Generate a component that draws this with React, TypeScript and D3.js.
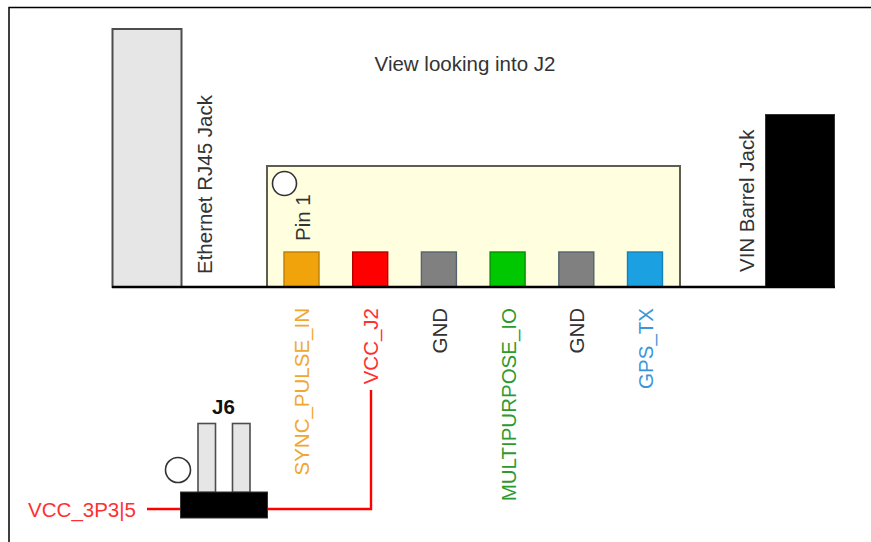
import React from "react";
import * as d3 from "d3";

const W = 871, H = 542;
const pinLabels = ["SYNC_PULSE_IN", "VCC_J2", "GND", "MULTIPURPOSE_IO", "GND", "GPS_TX"];
const pinFill = ["#f0a30a", "#ff0000", "#808080", "#00c800", "#808080", "#1ba1e2"];
const pinStroke = ["#bd7c07", "#b80000", "#51646f", "#009000", "#51646f", "#1680bb"];
const labelColor = ["#f0a830", "#ff3030", "#333333", "#2e9a2e", "#333333", "#3d95d8"];
const pinIndex = [0, 1, 2, 3, 4, 5];
const headerPins = [0, 1];

const FONT = "'Liberation Sans', Arial, sans-serif";
const FS = 20.5;

export default function App() {
  const pinX = d3.scaleLinear().domain([0, 5]).range([284, 627.5]);
  const labelX = d3.scaleLinear().domain([0, 5]).range([302, 646]);
  const headerX = d3.scaleLinear().domain([0, 1]).range([198, 232.5]);
  const wire = d3.line()([[267, 509], [371, 509], [371, 390]]) as string;
  const vText = (x: number, y: number, s: string, fill: string, anchor = "end", key?: number) => (
    <text key={key} transform={`translate(${x},${y}) rotate(-90)`} dy="0.35em" textAnchor={anchor}
      fontSize={FS} fontFamily={FONT} fill={fill}>{s}</text>
  );
  return (
    <svg width={W} height={H} style={{ position: "absolute", left: 0, top: 0, background: "#fff" }}>
      <path d={`M9 ${H}V7.5H${W}`} fill="none" stroke="#000" strokeWidth={1.5} />

      <rect x={112.5} y={29} width={69} height={258} fill="#e6e6e6" stroke="#4d4d4d" strokeWidth={2} />
      <rect x={267} y={166} width={413} height={121} fill="#ffffdf" stroke="#5e5e50" strokeWidth={2} />
      <circle cx={284.5} cy={183.5} r={12} fill="#fff" stroke="#333" strokeWidth={1.6} />
      {pinIndex.map(i => (
        <rect key={i} x={pinX(i)} y={252} width={35} height={35} fill={pinFill[i]} stroke={pinStroke[i]} strokeWidth={1.4} />
      ))}
      <rect x={765.5} y={114.5} width={69} height={172.5} fill="#000" stroke="#333" strokeWidth={1} />
      <line x1={112} x2={835} y1={287} y2={287} stroke="#000" strokeWidth={2.6} />

      <text x={465} y={64} dy="0.35em" textAnchor="middle" fontSize={FS} fontFamily={FONT} fill="#333">View looking into J2</text>
      {vText(205, 274, "Ethernet RJ45 Jack", "#333", "start")}
      {vText(303, 241, "Pin 1", "#333", "start")}
      {vText(747, 272, "VIN Barrel Jack", "#333", "start")}
      {pinIndex.map(i => vText(labelX(i), 308, pinLabels[i], labelColor[i], "end", i))}

      <path d={wire} fill="none" stroke="#ff0000" strokeWidth={2.4} />
      <line x1={147} x2={181} y1={509} y2={509} stroke="#ff0000" strokeWidth={2.4} />
      {headerPins.map(i => (
        <rect key={i} x={headerX(i)} y={423.5} width={17.5} height={69} fill="#e6e6e6" stroke="#4d4d4d" strokeWidth={1.6} />
      ))}
      <rect x={180.5} y={492} width={87} height={26} fill="#000" stroke="#333" strokeWidth={1} />
      <circle cx={178} cy={470} r={12.5} fill="#fff" stroke="#333" strokeWidth={1.6} />
      <text x={223.5} y={407} dy="0.35em" textAnchor="middle" fontSize={FS} fontWeight="bold" fontFamily={FONT} fill="#111">J6</text>
      <text x={136} y={510} dy="0.35em" textAnchor="end" fontSize={FS} fontFamily={FONT} fill="#ff3030">VCC_3P3|5</text>
    </svg>
  );
}
